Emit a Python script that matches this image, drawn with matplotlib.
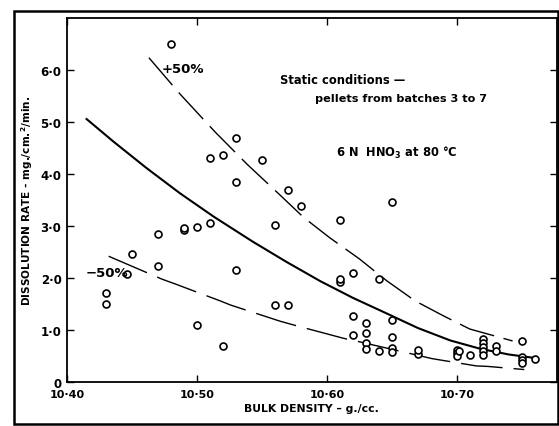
import matplotlib.pyplot as plt
from matplotlib.patches import Rectangle

# measured points (bulk density g/cc, dissolution rate mg/cm2/min)
density = [10.48, 10.53, 10.51, 10.52, 10.55, 10.53, 10.57, 10.58, 10.61, 10.51,
           10.56, 10.49, 10.49, 10.50, 10.47, 10.45, 10.47, 10.446, 10.43, 10.43,
           10.50, 10.53, 10.52, 10.56, 10.57, 10.61, 10.61, 10.62, 10.62, 10.62,
           10.65, 10.64, 10.63, 10.65, 10.63, 10.65, 10.63, 10.63, 10.64, 10.65,
           10.65, 10.67, 10.67, 10.70, 10.70, 10.70, 10.702, 10.71, 10.72, 10.72,
           10.72, 10.72, 10.72, 10.73, 10.73, 10.75, 10.75, 10.75, 10.75, 10.76]
rate = [6.50, 4.69, 4.31, 4.37, 4.28, 3.85, 3.70, 3.38, 3.11, 3.06,
        3.03, 2.92, 2.97, 2.98, 2.85, 2.46, 2.24, 2.08, 1.71, 1.51,
        1.10, 2.16, 0.69, 1.48, 1.48, 1.92, 1.99, 2.09, 1.27, 0.91,
        3.46, 1.98, 1.13, 1.19, 0.94, 0.87, 0.75, 0.63, 0.59, 0.65,
        0.58, 0.53, 0.61, 0.62, 0.55, 0.50, 0.60, 0.52, 0.83, 0.75,
        0.67, 0.59, 0.52, 0.69, 0.60, 0.79, 0.49, 0.42, 0.36, 0.45]

# mean curve
mean_x = [10.415, 10.436, 10.461, 10.487, 10.513, 10.543, 10.569, 10.595,
          10.620, 10.646, 10.670, 10.695, 10.718, 10.740, 10.761]
mean_y = [5.06, 4.62, 4.12, 3.63, 3.18, 2.70, 2.31, 1.94,
          1.62, 1.32, 1.04, 0.80, 0.64, 0.53, 0.46]

# +50% curve
upper_x = [10.463, 10.487, 10.514, 10.539, 10.563, 10.582, 10.602, 10.625,
           10.646, 10.668, 10.690, 10.710, 10.743]
upper_y = [6.24, 5.54, 4.81, 4.18, 3.62, 3.17, 2.78, 2.37,
           1.95, 1.56, 1.27, 1.02, 0.79]

# -50% curve
lower_x = [10.432, 10.473, 10.484, 10.518, 10.526, 10.564, 10.577, 10.613,
           10.624, 10.669, 10.681, 10.715, 10.724, 10.752]
lower_y = [2.42, 1.98, 1.88, 1.56, 1.48, 1.17, 1.08, 0.84,
           0.78, 0.52, 0.45, 0.31, 0.30, 0.24]

x_ticks = [10.40, 10.50, 10.60, 10.70]
x_labels = ['10·40', '10·50', '10·60', '10·70']
y_ticks = [0, 1, 2, 3, 4, 5, 6]
y_labels = ['0', '1·0', '2·0', '3·0', '4·0', '5·0', '6·0']

plt.rcParams['font.family'] = 'DejaVu Sans'
plt.rcParams['font.weight'] = 'bold'

fig = plt.figure(figsize=(5.59, 4.27), dpi=100)
ax = fig.add_axes([0.12, 0.103, 0.876, 0.852])

ax.plot(mean_x, mean_y, color='black', lw=1.5)
ax.plot(upper_x, upper_y, color='black', lw=1.0, dashes=(26, 7))
ax.plot(lower_x, lower_y, color='black', lw=1.0, dashes=(30, 8))
ax.plot(density, rate, 'o', ms=5, mfc='white', mec='black', mew=1.2)

ax.set_xlim(10.40, 10.777)
ax.set_ylim(0, 7.0)
ax.set_xticks(x_ticks)
ax.set_xticklabels(x_labels)
ax.set_yticks(y_ticks)
ax.set_yticklabels(y_labels)
ax.tick_params(direction='in', top=True, right=True, length=5, width=1)
ax.tick_params(axis='x', labelsize=8, pad=5)
ax.tick_params(axis='y', labelsize=8.5, pad=4)
for s in ax.spines.values():
    s.set_linewidth(1.3)

ax.set_xlabel('BULK DENSITY – g./cc.', fontsize=7.8, fontweight='bold', labelpad=3)
ax.set_ylabel('DISSOLUTION RATE - mg./cm.$^2$/min.', fontsize=7.6,
              fontweight='bold', labelpad=4)

ax.text(10.473, 6.04, '+50%', fontsize=9.5, va='center')
ax.text(10.414, 2.10, '−50%', fontsize=9.5, va='center')
ax.text(10.564, 5.83, 'Static conditions —', fontsize=8.3, va='center')
ax.text(10.591, 5.47, 'pellets from batches 3 to 7', fontsize=8.1, va='center')
ax.text(10.607, 4.42, '6 N  HNO$_3$ at 80 °C', fontsize=8.3, va='center')

fig.patches.append(Rectangle((0.025, 0.005), 0.973, 0.966, transform=fig.transFigure,
                             fill=False, lw=1.8, ec='black'))

fig.savefig('out.png', dpi=100)
